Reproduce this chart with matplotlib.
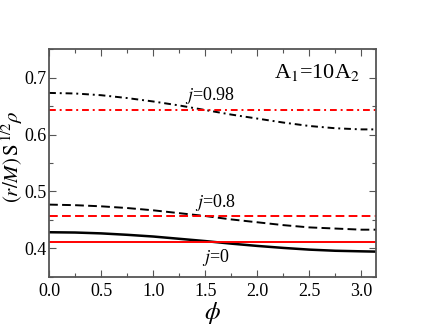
import numpy as np
import matplotlib
matplotlib.use("Agg")
import matplotlib.pyplot as plt
from matplotlib.ticker import MultipleLocator

plt.rcParams['font.family'] = ['Liberation Serif', 'DejaVu Serif']
plt.rcParams['mathtext.fontset'] = 'stix'

phi = [0.0, 0.25, 0.5, 0.75, 1.0, 1.25, 1.5, 1.75, 2.0, 2.25, 2.5, 2.75, 3.0, 3.1416]

black_098 = [0.673, 0.672, 0.669, 0.664, 0.658, 0.651, 0.643, 0.635, 0.628, 0.621, 0.615, 0.611, 0.609, 0.609]
black_08 = [0.477, 0.476, 0.474, 0.471, 0.467, 0.462, 0.457, 0.451, 0.446, 0.441, 0.437, 0.435, 0.433, 0.433]
black_0 = [0.4285, 0.428, 0.4265, 0.424, 0.421, 0.417, 0.413, 0.4085, 0.4045, 0.401, 0.398, 0.396, 0.395, 0.3945]

# red constant levels
red_098 = 0.6425
red_08 = 0.4565
red_0 = 0.4117

spin_labels = ["0.98", "0.8", "0"]
label_pos = [(1.31, 0.669), (1.40, 0.480), (1.47, 0.384)]

fig = plt.figure(figsize=(4.23, 3.27), dpi=100)
ax = fig.add_axes([0.116, 0.153, 0.773, 0.697])

dd = (3.5, 2.0, 1.0, 2.0)
ds = (4.5, 2.2)

ax.plot(phi, black_098, color="black", lw=1.4, dashes=dd)
ax.plot(phi, black_08, color="black", lw=1.4, dashes=ds)
ax.plot(phi, black_0, color="black", lw=1.8)

ax.plot([phi[0], phi[-1]], [red_098, red_098], color="red", lw=1.4, dashes=dd)
ax.plot([phi[0], phi[-1]], [red_08, red_08], color="red", lw=1.4, dashes=ds)
ax.plot([phi[0], phi[-1]], [red_0, red_0], color="red", lw=1.4)

for lab, (x, y) in zip(spin_labels, label_pos):
    ax.text(x, y, r"$j$=" + lab, fontsize=13, va="center", ha="left")

ax.text(2.99, 0.709, r"A$_1$=10A$_2$", fontsize=16, ha="right", va="center")

ax.set_xlim(0, np.pi)
ax.set_ylim(0.35, 0.75)
ax.xaxis.set_major_locator(MultipleLocator(0.5))
ax.xaxis.set_minor_locator(MultipleLocator(0.25))
ax.yaxis.set_major_locator(MultipleLocator(0.1))
ax.yaxis.set_minor_locator(MultipleLocator(0.05))
ax.set_xticks([0.0, 0.5, 1.0, 1.5, 2.0, 2.5, 3.0])
ax.set_xticklabels(["0.0", "0.5", "1.0", "1.5", "2.0", "2.5", "3.0"])
ax.set_yticks([0.4, 0.5, 0.6, 0.7])
ax.set_yticklabels(["0.4", "0.5", "0.6", "0.7"])

ax.tick_params(which="both", direction="in", top=True, right=True, color="#555555", labelsize=13)
ax.tick_params(axis="y", pad=2)
ax.tick_params(axis="x", pad=4)
ax.tick_params(which="major", length=5, width=0.8)
ax.tick_params(which="minor", length=3, width=0.8)
for sp in ax.spines.values():
    sp.set_color("#555555")
    sp.set_linewidth(1.3)

ax.set_xlabel(r"$\phi$", fontsize=18, labelpad=0)
ax.set_ylabel(r"$(r/M)\,\mathrm{S}^{\,1/2}\rho$", fontsize=15)
ax.yaxis.set_label_coords(-0.075, 0.53)

fig.savefig("out.png", dpi=100)
